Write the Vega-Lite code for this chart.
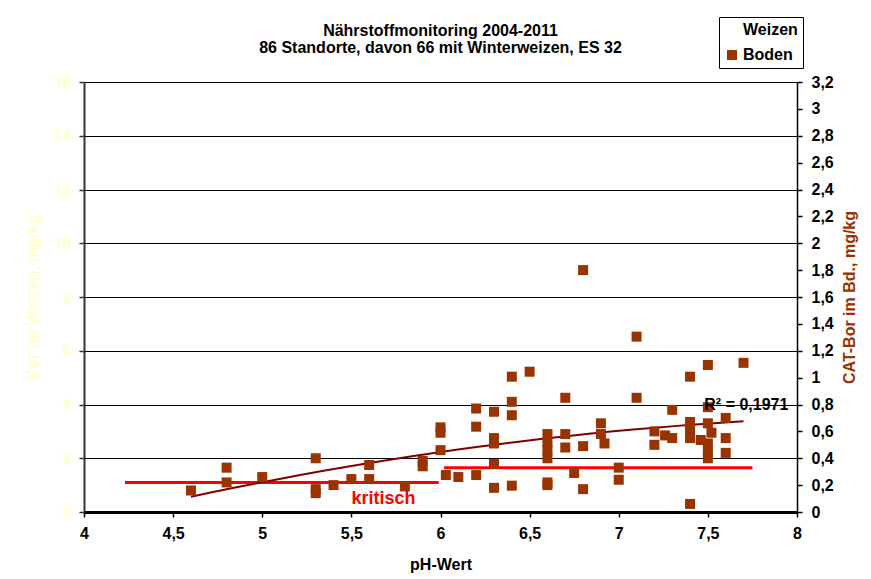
{
  "$schema": "https://vega.github.io/schema/vega-lite/v6.json",
  "width": 713,
  "height": 430,
  "autosize": {"type": "none"},
  "padding": {"left": 84, "top": 82, "right": 74, "bottom": 67},
  "background": "white",
  "config": {
    "font": "Liberation Sans",
    "view": {"stroke": null},
    "axis": {"labelFont": "Liberation Sans", "titleFont": "Liberation Sans"},
    "legend": {"labelFont": "Liberation Sans"}
  },
  "title": {
    "text": ["Nährstoffmonitoring 2004-2011", "86 Standorte, davon 66 mit Winterweizen, ES 32"],
    "font": "Liberation Sans",
    "fontSize": 16,
    "fontWeight": "bold",
    "anchor": "middle",
    "frame": "group",
    "lineHeight": 17,
    "offset": -39,
    "color": "black"
  },
  "datasets": {
    "boden": [
      {"ph": 4.6, "boden": 0.16, "serie": "Boden"},
      {"ph": 4.8, "boden": 0.33, "serie": "Boden"},
      {"ph": 4.8, "boden": 0.22, "serie": "Boden"},
      {"ph": 5.0, "boden": 0.26, "serie": "Boden"},
      {"ph": 5.3, "boden": 0.40, "serie": "Boden"},
      {"ph": 5.3, "boden": 0.17, "serie": "Boden"},
      {"ph": 5.3, "boden": 0.14, "serie": "Boden"},
      {"ph": 5.4, "boden": 0.20, "serie": "Boden"},
      {"ph": 5.5, "boden": 0.245, "serie": "Boden"},
      {"ph": 5.6, "boden": 0.35, "serie": "Boden"},
      {"ph": 5.6, "boden": 0.245, "serie": "Boden"},
      {"ph": 5.8, "boden": 0.19, "serie": "Boden"},
      {"ph": 5.9, "boden": 0.38, "serie": "Boden"},
      {"ph": 5.9, "boden": 0.34, "serie": "Boden"},
      {"ph": 6.0, "boden": 0.63, "serie": "Boden"},
      {"ph": 6.0, "boden": 0.59, "serie": "Boden"},
      {"ph": 6.0, "boden": 0.46, "serie": "Boden"},
      {"ph": 6.03, "boden": 0.275, "serie": "Boden"},
      {"ph": 6.1, "boden": 0.26, "serie": "Boden"},
      {"ph": 6.2, "boden": 0.77, "serie": "Boden"},
      {"ph": 6.2, "boden": 0.635, "serie": "Boden"},
      {"ph": 6.2, "boden": 0.275, "serie": "Boden"},
      {"ph": 6.3, "boden": 0.746, "serie": "Boden"},
      {"ph": 6.3, "boden": 0.55, "serie": "Boden"},
      {"ph": 6.3, "boden": 0.51, "serie": "Boden"},
      {"ph": 6.3, "boden": 0.357, "serie": "Boden"},
      {"ph": 6.3, "boden": 0.18, "serie": "Boden"},
      {"ph": 6.4, "boden": 1.007, "serie": "Boden"},
      {"ph": 6.4, "boden": 0.82, "serie": "Boden"},
      {"ph": 6.4, "boden": 0.72, "serie": "Boden"},
      {"ph": 6.4, "boden": 0.196, "serie": "Boden"},
      {"ph": 6.5, "boden": 1.044, "serie": "Boden"},
      {"ph": 6.6, "boden": 0.58, "serie": "Boden"},
      {"ph": 6.6, "boden": 0.52, "serie": "Boden"},
      {"ph": 6.6, "boden": 0.46, "serie": "Boden"},
      {"ph": 6.6, "boden": 0.40, "serie": "Boden"},
      {"ph": 6.6, "boden": 0.22, "serie": "Boden"},
      {"ph": 6.6, "boden": 0.20, "serie": "Boden"},
      {"ph": 6.7, "boden": 0.85, "serie": "Boden"},
      {"ph": 6.7, "boden": 0.58, "serie": "Boden"},
      {"ph": 6.7, "boden": 0.48, "serie": "Boden"},
      {"ph": 6.75, "boden": 0.29, "serie": "Boden"},
      {"ph": 6.8, "boden": 1.8, "serie": "Boden"},
      {"ph": 6.8, "boden": 0.49, "serie": "Boden"},
      {"ph": 6.8, "boden": 0.17, "serie": "Boden"},
      {"ph": 6.9, "boden": 0.66, "serie": "Boden"},
      {"ph": 6.9, "boden": 0.58, "serie": "Boden"},
      {"ph": 6.92, "boden": 0.51, "serie": "Boden"},
      {"ph": 7.0, "boden": 0.33, "serie": "Boden"},
      {"ph": 7.0, "boden": 0.24, "serie": "Boden"},
      {"ph": 7.1, "boden": 1.305, "serie": "Boden"},
      {"ph": 7.1, "boden": 0.85, "serie": "Boden"},
      {"ph": 7.2, "boden": 0.6, "serie": "Boden"},
      {"ph": 7.2, "boden": 0.5, "serie": "Boden"},
      {"ph": 7.26, "boden": 0.57, "serie": "Boden"},
      {"ph": 7.3, "boden": 0.76, "serie": "Boden"},
      {"ph": 7.3, "boden": 0.55, "serie": "Boden"},
      {"ph": 7.4, "boden": 1.007, "serie": "Boden"},
      {"ph": 7.4, "boden": 0.67, "serie": "Boden"},
      {"ph": 7.4, "boden": 0.6, "serie": "Boden"},
      {"ph": 7.4, "boden": 0.55, "serie": "Boden"},
      {"ph": 7.4, "boden": 0.06, "serie": "Boden"},
      {"ph": 7.46, "boden": 0.536, "serie": "Boden"},
      {"ph": 7.5, "boden": 1.094, "serie": "Boden"},
      {"ph": 7.5, "boden": 0.78, "serie": "Boden"},
      {"ph": 7.5, "boden": 0.66, "serie": "Boden"},
      {"ph": 7.5, "boden": 0.51, "serie": "Boden"},
      {"ph": 7.5, "boden": 0.45, "serie": "Boden"},
      {"ph": 7.5, "boden": 0.40, "serie": "Boden"},
      {"ph": 7.52, "boden": 0.59, "serie": "Boden"},
      {"ph": 7.6, "boden": 0.70, "serie": "Boden"},
      {"ph": 7.6, "boden": 0.55, "serie": "Boden"},
      {"ph": 7.6, "boden": 0.44, "serie": "Boden"},
      {"ph": 7.7, "boden": 1.11, "serie": "Boden"}
    ],
    "kritisch": [
      {"ph1": 4.23, "ph2": 5.99, "wert": 0.22},
      {"ph1": 6.02, "ph2": 7.75, "wert": 0.33}
    ],
    "label_k": [{"ph": 5.68, "wert": 0.1, "text": "kritisch"}],
    "label_r": [{"ph": 7.48, "wert": 0.796, "text": "R² = 0,1971"}]
  },
  "layer": [
    {
      "data": {"name": "kritisch"},
      "mark": {"type": "rule", "color": "#ff0000", "strokeWidth": 3},
      "encoding": {
        "x": {
          "field": "ph1", "type": "quantitative",
          "scale": {"domain": [4, 8], "nice": false},
          "axis": {
            "title": "pH-Wert",
            "values": [4, 4.5, 5, 5.5, 6, 6.5, 7, 7.5, 8],
            "labelExpr": "replace(format(datum.value, '.1~f'), '.', ',')",
            "labelColor": "black",
            "labelFontSize": 16,
            "labelFontWeight": "bold",
            "labelPadding": 8,
            "labelFlush": false,
            "titleColor": "black",
            "titleFontSize": 16,
            "titleFontWeight": "bold",
            "titlePadding": 15,
            "grid": false,
            "domainColor": "black",
            "domainWidth": 3,
            "tickColor": "black",
            "tickSize": 5,
            "tickWidth": 1.5
          }
        },
        "x2": {"field": "ph2"},
        "y": {
          "field": "wert", "type": "quantitative",
          "scale": {"domain": [0, 3.2], "nice": false, "zero": true},
          "axis": {
            "orient": "left",
            "title": "Bor im Weizen, mg/kg",
            "values": [0, 0.4, 0.8, 1.2, 1.6, 2.0, 2.4, 2.8, 3.2],
            "labelExpr": "format(round(datum.value*5), 'd')",
            "labelColor": "#ffffcc",
            "labelFontSize": 16,
            "labelFontWeight": "bold",
            "labelPadding": 8,
            "labelFlush": false,
            "titleColor": "#ffffcc",
            "titleFontSize": 16,
            "titleFontWeight": "bold",
            "titleAngle": 270,
            "titlePadding": 12,
            "grid": true,
            "gridColor": "black",
            "gridWidth": 1,
            "gridOpacity": 1,
            "domainColor": "#333333",
            "domainWidth": 2,
            "tickColor": "#333333",
            "tickSize": 5,
            "tickWidth": 1.5
          }
        }
      }
    },
    {
      "data": {"name": "boden"},
      "mark": {"type": "line", "color": "#800000", "strokeWidth": 2},
      "transform": [{"regression": "boden", "on": "ph", "method": "poly", "order": 2}],
      "encoding": {
        "x": {"field": "ph", "type": "quantitative"},
        "y": {"field": "boden", "type": "quantitative", "axis": null}
      }
    },
    {
      "data": {"name": "boden"},
      "mark": {"type": "point", "shape": "square", "filled": true, "size": 100, "opacity": 1},
      "encoding": {
        "x": {"field": "ph", "type": "quantitative"},
        "y": {
          "field": "boden", "type": "quantitative",
          "axis": {
            "orient": "right",
            "title": "CAT-Bor im Bd., mg/kg",
            "values": [0, 0.2, 0.4, 0.6, 0.8, 1.0, 1.2, 1.4, 1.6, 1.8, 2.0, 2.2, 2.4, 2.6, 2.8, 3.0, 3.2],
            "labelExpr": "replace(format(datum.value, '.1~f'), '.', ',')",
            "labelColor": "black",
            "labelFontSize": 16,
            "labelFontWeight": "bold",
            "labelPadding": 9,
            "labelFlush": false,
            "titleColor": "#993300",
            "titleFontSize": 16,
            "titleFontWeight": "bold",
            "titleAngle": 270,
            "titleBaseline": "top",
            "titlePadding": 8,
            "grid": false,
            "domainColor": "black",
            "domainWidth": 1.5,
            "tickColor": "black",
            "tickSize": 5,
            "tickWidth": 1.5
          }
        },
        "color": {
          "field": "serie", "type": "nominal",
          "scale": {"domain": ["Weizen", "Boden"], "range": ["#ffffff", "#993300"]},
          "legend": {
            "orient": "none",
            "legendX": 635,
            "legendY": -65,
            "title": null,
            "strokeColor": "black",
            "fillColor": "white",
            "padding": 5,
            "symbolOffset": 0,
            "symbolType": "square",
            "symbolSize": 100,
            "symbolStrokeWidth": 0,
            "labelFontSize": 16,
            "labelFontWeight": "bold",
            "labelColor": "black",
            "labelOffset": 3,
            "rowPadding": 9
          }
        }
      }
    },
    {
      "data": {"name": "label_k"},
      "mark": {"type": "text", "fontWeight": "bold", "font": "Liberation Sans", "fontSize": 18, "color": "#ff0000", "align": "center", "baseline": "middle"},
      "encoding": {
        "x": {"field": "ph", "type": "quantitative"},
        "y": {"field": "wert", "type": "quantitative", "axis": null},
        "text": {"field": "text"}
      }
    },
    {
      "data": {"name": "label_r"},
      "mark": {"type": "text", "fontWeight": "bold", "font": "Liberation Sans", "fontSize": 16, "color": "black", "align": "left", "baseline": "middle"},
      "encoding": {
        "x": {"field": "ph", "type": "quantitative"},
        "y": {"field": "wert", "type": "quantitative", "axis": null},
        "text": {"field": "text"}
      }
    }
  ],
  "resolve": {"axis": {"y": "independent"}}
}
